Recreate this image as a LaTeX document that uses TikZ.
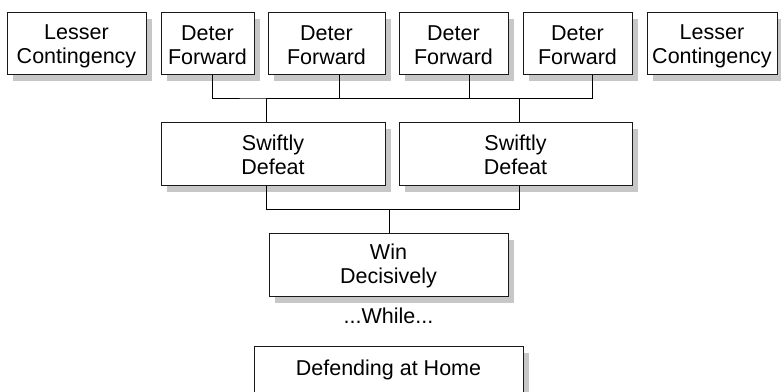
\documentclass[tikz,border=0pt]{standalone}
\usepackage{fontspec}
\setmainfont{Liberation Sans}
\usetikzlibrary{shadows}
\begin{document}
\begin{tikzpicture}[x=1pt,y=-1pt,
  box/.style={draw=black!90,line width=1pt,fill=white,rectangle,inner sep=0pt,
    drop shadow={shadow xshift=6pt,shadow yshift=-7pt,fill=black!22,opacity=1}},
  txt/.style={inner sep=0pt,align=center,font=\fontsize{21.5}{24.5}\selectfont},
  link/.style={draw=black,line width=1pt}]
\useasboundingbox (0,0) rectangle (781,391);
\clip (0,0) rectangle (781,391);

% top row boxes
\node[box,minimum width=139pt,minimum height=62pt] (l1) at (76.5,43) {};
\node[box,minimum width=93pt,minimum height=62pt] (d1) at (207.5,43) {};
\node[box,minimum width=117pt,minimum height=62pt] (d2) at (326.5,43) {};
\node[box,minimum width=109pt,minimum height=62pt] (d3) at (453.5,43) {};
\node[box,minimum width=109pt,minimum height=62pt] (d4) at (577.5,43) {};
\node[box,minimum width=130pt,minimum height=62pt] (l2) at (712,43) {};

% middle row boxes
\node[box,minimum width=224pt,minimum height=63pt] (s1) at (273,153.5) {};
\node[box,minimum width=233pt,minimum height=63pt] (s2) at (515.5,153.5) {};

% lower boxes
\node[box,minimum width=239pt,minimum height=63pt] (w) at (388.5,264.5) {};
\node[box,minimum width=269pt,minimum height=48pt] (home) at (388.5,370) {};

% labels
\node[txt] (l1t) at ([yshift=-3.5pt]l1.center) {Lesser\\Contingency};
\node[txt] (d1t) at ([yshift=-2pt]d1.center) {Deter\\Forward};
\node[txt] (d2t) at ([yshift=-2pt]d2.center) {Deter\\Forward};
\node[txt] (d3t) at ([yshift=-2pt]d3.center) {Deter\\Forward};
\node[txt] (d4t) at ([yshift=-2pt]d4.center) {Deter\\Forward};
\node[txt] (l2t) at ([yshift=-3.5pt]l2.center) {Lesser\\Contingency};
\node[txt] (s1t) at ([yshift=-1.5pt]s1.center) {Swiftly\\Defeat};
\node[txt] (s2t) at ([yshift=-1.5pt]s2.center) {Swiftly\\Defeat};
\node[txt] (wt) at ([yshift=-1.5pt]w.center) {Win\\Decisively};
\node[txt] (while) at (388.5,316) {...While...};
\node[txt] (homet) at (home.center) {Defending at Home};

% junctions
\coordinate (bar1) at (266,98);
\coordinate (bar2) at (519,98);
\coordinate (bar3) at (389,209);

% Deter Forward -> Swiftly Defeat
\draw[link] ([xshift=4.5pt]d1.south) |- (bar1) -| ([xshift=12.5pt]d2.south);
\draw[link] (bar1) -- (bar2);
\draw[link] (bar1) -| ([xshift=15.5pt]d3.south);
\draw[link] (bar2) -| ([xshift=14.5pt]d4.south);
\draw[link] (bar1) -- (s1.north -| bar1);
\draw[link] (bar2) -- (s2.north -| bar2);

% Swiftly Defeat -> Win Decisively
\draw[link] (s1.south -| bar1) |- (bar3);
\draw[link] (s2.south -| bar2) |- (bar3);
\draw[link] (bar3) -- (w.north -| bar3);
\end{tikzpicture}
\end{document}
